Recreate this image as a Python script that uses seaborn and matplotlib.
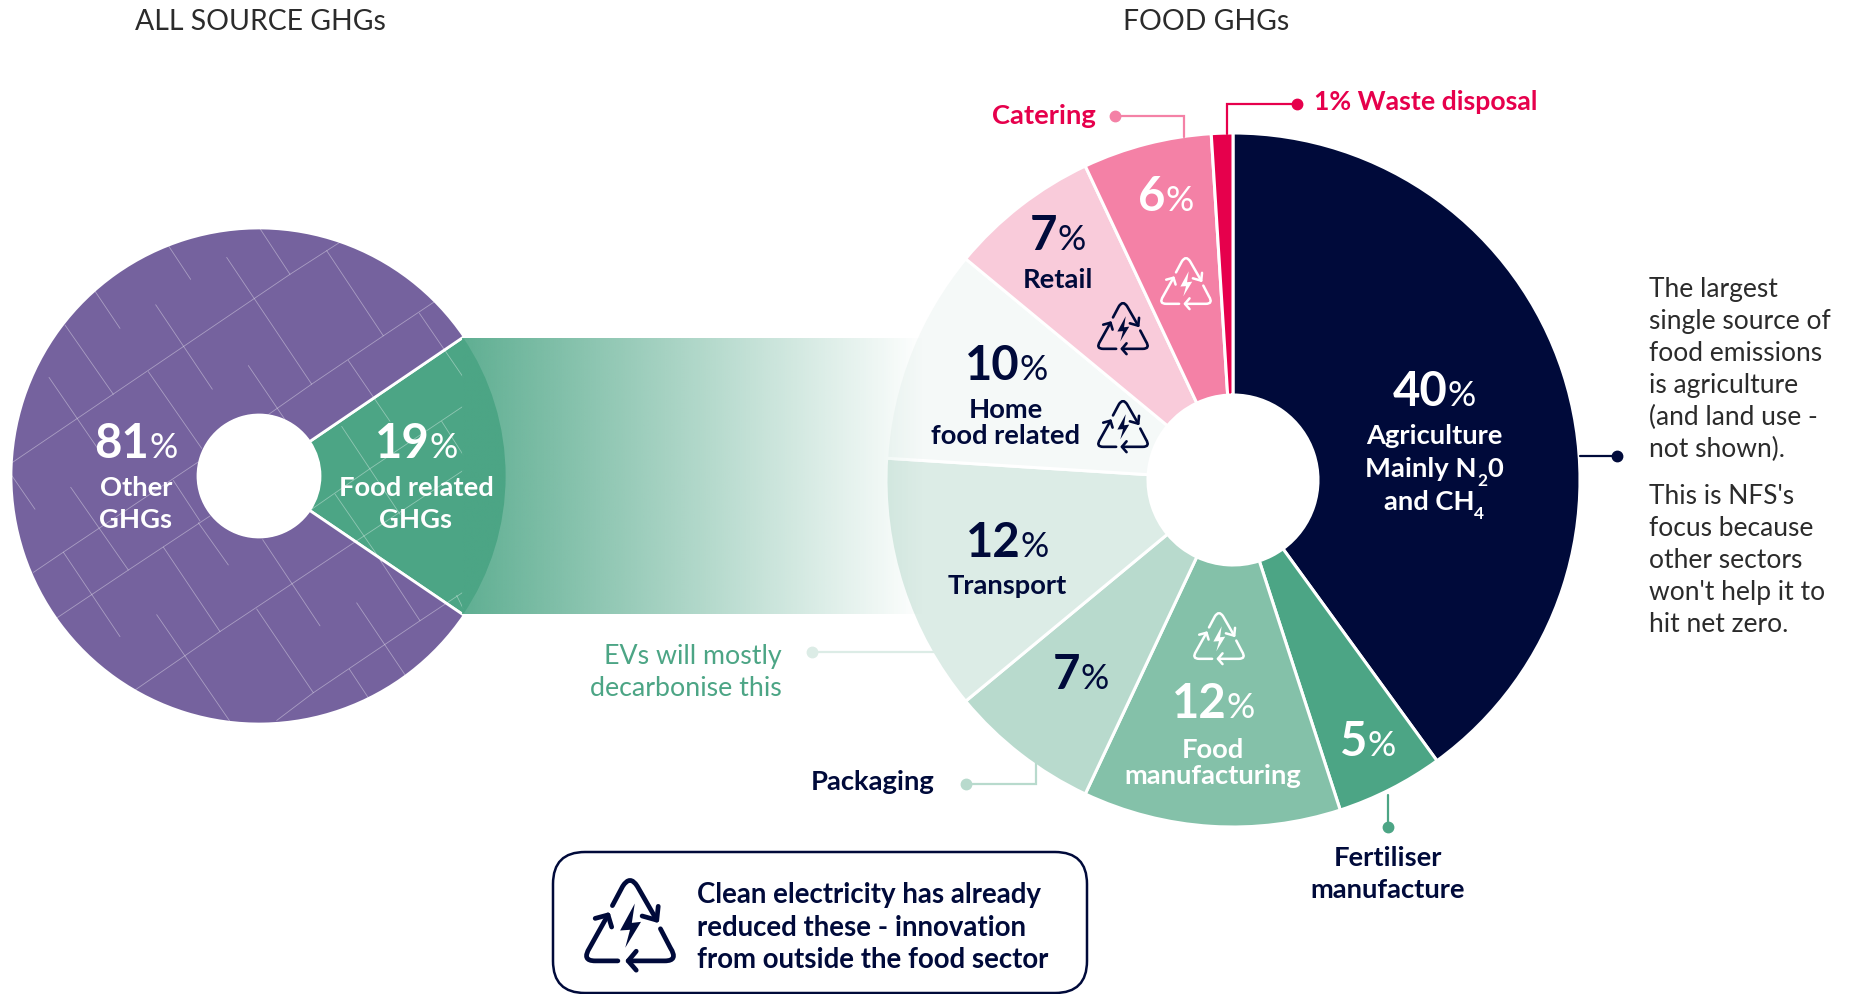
import numpy as np
import matplotlib
matplotlib.use("Agg")
import matplotlib.pyplot as plt
import seaborn as sns
from matplotlib.patches import Circle, FancyBboxPatch, PathPatch, Polygon
from matplotlib.path import Path

# Data
all_source_labels = ["Food related GHGs", "Other GHGs"]
all_source_values = [19, 81]
food_labels = ["Agriculture", "Fertiliser manufacture", "Food manufacturing", "Packaging",
               "Transport", "Home food related", "Retail", "Catering", "Waste disposal"]
food_values = [40, 5, 12, 7, 12, 10, 7, 6, 1]

NAVY = "#000a3a"
GREEN = "#4ca585"
PURPLE = "#75629e"
RED = "#e6004c"
PINK = "#f481a6"
PACK = "#b8dacd"
TRANS = "#dcece6"
GREY = "#2b2b2b"
food_colors = sns.color_palette([NAVY, GREEN, "#84c1a9", PACK, TRANS, "#f5f9f8", "#f9cbda", PINK, RED])
all_source_colors = sns.color_palette([GREEN, PURPLE])

sns.set_theme(style="white")
plt.rcParams["font.family"] = ["Lato", "DejaVu Sans"]

fig = plt.figure(figsize=(18.54, 9.95), dpi=100)
ax = fig.add_axes([0, 0, 1, 1])

# pixel coordinates, y pointing down, so the pies run clockwise with counterclock=True
LEFT_C, LEFT_R, LEFT_HOLE = (259, 477), 248, 61
RIGHT_C, RIGHT_R, RIGHT_HOLE = (1233, 481), 347, 85

ax.pie(all_source_values, colors=all_source_colors, center=LEFT_C, radius=LEFT_R, frame=True,
       startangle=-all_source_values[0] * 3.6 / 2, counterclock=True,
       wedgeprops=dict(width=LEFT_R - LEFT_HOLE, edgecolor="white", linewidth=2))
ax.pie(food_values, colors=food_colors, center=RIGHT_C, radius=RIGHT_R, frame=True,
       startangle=-90, counterclock=True,
       wedgeprops=dict(width=RIGHT_R - RIGHT_HOLE, edgecolor="white", linewidth=2.2))

# texture on the left pie, traced in crop coordinates
texture = [
    [(35, 748), (870, 190), (1020, 95)], [(805, 605), (935, 515), (1150, 372), (1305, 270)],
    [(100, 1072), (190, 1012), (595, 745)], [(170, 1207), (385, 1065), (630, 905)],
    [(405, 1420), (660, 1247), (1060, 985), (1390, 770)], [(830, 1510), (940, 1428), (1260, 1215), (1390, 1130)],
    [(935, 885), (1110, 765), (1390, 580)], [(780, 55), (870, 190)], [(505, 105), (572, 205)],
    [(680, 140), (935, 515)], [(285, 240), (360, 350)], [(467, 280), (637, 530)], [(195, 340), (340, 545)],
    [(147, 495), (300, 715)], [(445, 478), (605, 705)], [(745, 460), (855, 620)], [(980, 120), (1150, 372)],
    [(1258, 305), (1390, 495)], [(1045, 445), (1170, 625)], [(35, 785), (105, 885)], [(212, 820), (385, 1065)],
    [(490, 997), (660, 1247)], [(595, 925), (685, 1050)], [(190, 1012), (360, 1262)], [(788, 975), (960, 1230)],
    [(470, 1197), (690, 1513)], [(770, 1180), (940, 1428)], [(1070, 1162), (1215, 1375)],
    [(1048, 1358), (1105, 1443)], [(1140, 1035), (1260, 1215)], [(1025, 640), (1200, 900)],
    [(1005, 840), (1145, 1040)], [(1325, 625), (1390, 725)], [(1370, 1140), (1390, 1180)],
    [(520, 800), (600, 920)],
]
clip = Circle(LEFT_C, LEFT_R, transform=ax.transData)
for seg in texture:
    seg = np.array(seg, dtype=float)
    line, = ax.plot(seg[:, 0] / 3, 229 + (seg[:, 1] - 53) * 0.338, color="white", lw=0.6, alpha=0.38, zorder=3)
    line.set_clip_path(clip)
ax.add_patch(Circle(LEFT_C, LEFT_HOLE, color="white", zorder=4))

# gradient band joining the two pies
band = np.zeros((1, 400, 4))
band[..., :3] = sns.color_palette([GREEN])[0]
band[..., 3] = np.linspace(0.894, 0, 400)
ax.imshow(band, extent=(462, 925, 615, 339), aspect="auto", zorder=5, interpolation="bilinear")

ax.set_xlim(0, 1854)
ax.set_ylim(995, 0)
ax.set_aspect("auto")
ax.set_axis_off()

renderer = fig.canvas.get_renderer()


def runs(cx, y, parts, color, zorder=10):
    # text pieces set side by side and centred as one: (string, size, weight, shift below baseline)
    base = y + parts[0][1] * 100 / 72 * 0.36
    items = [ax.text(0, base + p[3], p[0], fontsize=p[1], fontweight=p[2], color=color, va="baseline",
                     ha="left", zorder=zorder) for p in parts]
    widths = [t.get_window_extent(renderer).width for t in items]
    x = cx - sum(widths) / 2
    for t, w in zip(items, widths):
        t.set_x(x)
        x += w


def pct(cx, y, num, color):
    runs(cx, y, [(num, 34, "bold", 0), ("%", 25.5, "normal", 0)], color)


def label(cx, y, s, color=NAVY, size=19.7, weight="bold", ha="center"):
    ax.text(cx, y + 1.5, s, fontsize=size, fontweight=weight, color=color, ha=ha, va="center", zorder=10)


def leader(points, color):
    pts = np.array(points)
    ax.plot(pts[:, 0], pts[:, 1], color=color, lw=1.6, zorder=2, solid_joinstyle="miter")
    ax.plot(pts[0, 0], pts[0, 1], "o", color=color, ms=7.5, zorder=2)


def icon(cx, cy, size, color, lw):
    def to_xy(pts):
        pts = np.array(pts, dtype=float)
        return np.c_[cx + (pts[:, 0] - 245) / 240 * size, cy + (pts[:, 1] - 437) / 265 * size * 1.04]

    M, L, C = Path.MOVETO, Path.LINETO, Path.CURVE3
    strokes = [
        ([(197, 378), (225, 322), (245, 288), (265, 322), (318, 420)], [M, L, C, C, L]),
        ([(278, 408), (318, 420), (322, 380)], [M, L, L]),
        ([(185, 405), (135, 500), (112, 538), (150, 538), (212, 538)], [M, L, C, C, L]),
        ([(150, 415), (185, 405), (195, 440)], [M, L, L]),
        ([(328, 445), (355, 500), (378, 538), (340, 538), (240, 538)], [M, L, C, C, L]),
        ([(262, 510), (240, 538), (262, 565)], [M, L, L]),
    ]
    for pts, codes in strokes:
        ax.add_patch(PathPatch(Path(to_xy(pts), codes), fill=False, edgecolor=color, lw=lw,
                               capstyle="round", joinstyle="round", zorder=9))
    bolt = [(258, 372), (218, 450), (245, 448), (232, 500), (275, 425), (250, 428)]
    ax.add_patch(Polygon(to_xy(bolt), closed=True, facecolor=color, edgecolor="none", zorder=9))


# Titles
label(260, 20, "ALL SOURCE GHGs", color=GREY, size=20.4, weight="normal")
label(1206, 20, "FOOD GHGs", color=GREY, size=20.4, weight="normal")

# Left pie text
pct(136, 441, "81", "white")
label(136, 486, "Other", color="white")
label(136, 518, "GHGs", color="white")
pct(416, 441, "19", "white")
label(416, 486, "Food related", color="white")
label(416, 518, "GHGs", color="white")

# Right pie text
pct(1434, 389, "40", "white")
label(1434, 435, "Agriculture", color="white")
runs(1434, 467, [("Mainly N", 19.7, "bold", 0), ("2", 12.5, "bold", 9), ("0", 19.7, "bold", 0)], "white")
runs(1434, 500, [("and CH", 19.7, "bold", 0), ("4", 12.5, "bold", 9)], "white")
pct(1368, 739, "5", "white")
pct(1213, 701, "12", "white")
label(1213, 748, "Food", color="white")
label(1213, 774, "manufacturing", color="white")
pct(1081, 672, "7", NAVY)
pct(1007, 540, "12", NAVY)
label(1007, 585, "Transport")
pct(1006, 363, "10", NAVY)
label(1006, 408, "Home")
label(1006, 434, "food related")
pct(1058, 233, "7", NAVY)
label(1058, 278, "Retail")
pct(1166, 194, "6", "white")

icon(1219, 640, 50, "white", 1.8)
icon(1186, 285, 50, "white", 1.8)
icon(1123, 330, 50, NAVY, 1.9)
icon(1123, 428, 50, NAVY, 1.9)

# Leader lines and their labels
leader([(1115, 117), (1184, 117), (1184, 138)], PINK)
leader([(1297, 105), (1227, 105), (1227, 135)], RED)
leader([(1617, 457), (1580, 457)], NAVY)
leader([(1388, 828), (1388, 796)], GREEN)
leader([(966, 785), (1036, 785), (1036, 762)], PACK)
leader([(812, 653), (934, 653)], TRANS)

label(1044, 115, "Catering", color=RED)
label(1314, 100, "1% Waste disposal", color=RED, size=19.2, ha="left")
label(873, 780, "Packaging")
label(1388, 857, "Fertiliser")
label(1388, 889, "manufacture")
label(782, 655, "EVs will mostly", color=GREEN, size=19.3, weight="normal", ha="right")
label(782, 687, "decarbonise this", color=GREEN, size=19.3, weight="normal", ha="right")

# Side note
note_lines = ["The largest", "single source of", "food emissions", "is agriculture", "(and land use -", "not shown)."]
note_ys = [288, 320, 352, 384, 416, 448]
for s, y in zip(note_lines, note_ys):
    label(1649, y, s, color=GREY, size=19, weight="normal", ha="left")
note_lines2 = ["This is NFS's", "focus because", "other sectors", "won't help it to", "hit net zero."]
note_ys2 = [495, 527, 559, 591, 623]
for s, y in zip(note_lines2, note_ys2):
    label(1649, y, s, color=GREY, size=19, weight="normal", ha="left")

# Key box
ax.add_patch(FancyBboxPatch((553, 853), 534, 141, boxstyle="round,pad=0,rounding_size=32",
                            facecolor="white", edgecolor=NAVY, lw=1.8, zorder=6))
icon(630, 927, 88, NAVY, 3.4)
label(697, 894, "Clean electricity has already", size=19.9, ha="left")
label(697, 926, "reduced these - innovation", size=19.9, ha="left")
label(697, 958, "from outside the food sector", size=19.9, ha="left")

plt.savefig("out.png", dpi=100)
